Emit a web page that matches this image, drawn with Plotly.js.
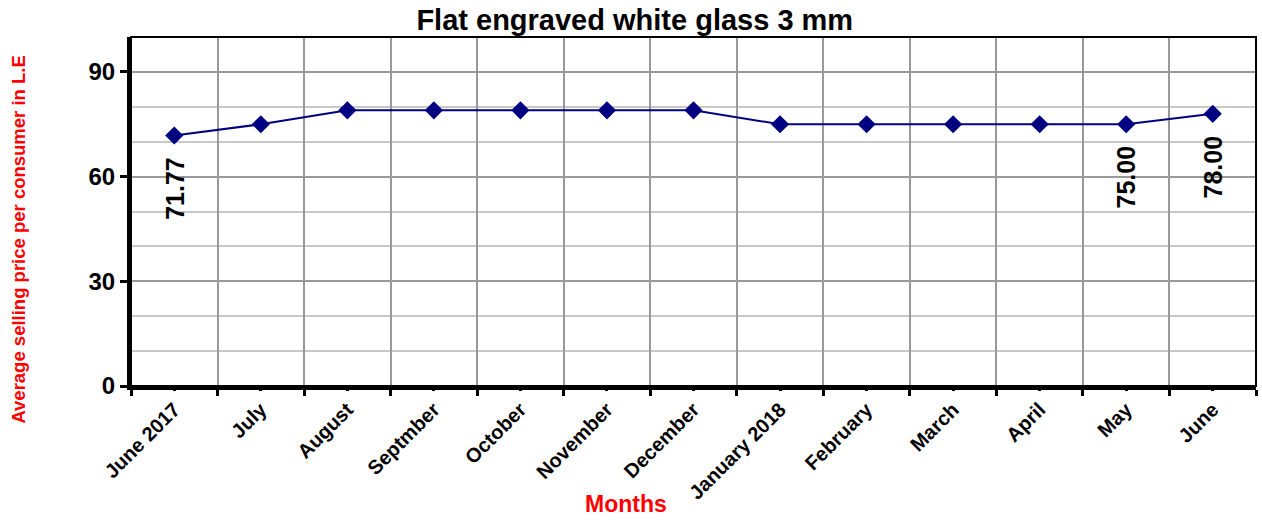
<!DOCTYPE html>
<html>
<head>
<meta charset="utf-8">
<script src="https://cdn.plot.ly/plotly-3.0.1.min.js"></script>
<style>html,body{margin:0;padding:0;background:#fff;}#chart{width:1262px;height:520px;}</style>
</head>
<body>
<div id="chart"></div>
<script>
const months = ["June 2017","July","August","Septmber","October","November","December","January 2018","February","March","April","May","June"];
const prices = [71.77, 75, 79, 79, 79, 79, 79, 75, 75, 75, 75, 75, 78];
const labelled = [0, 11, 12];
const labelText = ["71.77", "75.00", "78.00"];

const font = "Liberation Sans, Arial, sans-serif";

const traces = [
  {
    x: months, y: prices, type: "scatter", mode: "lines+markers",
    line: {color: "#000080", width: 2},
    marker: {symbol: "diamond", size: 14, color: "#000080"},
    hoverinfo: "skip", showlegend: false
  },
  {
    x: months, y: prices, type: "scatter", mode: "markers",
    xaxis: "x2", marker: {opacity: 0}, hoverinfo: "skip", showlegend: false
  }
];

const annotations = labelled.map((i, k) => ({
  x: months[i], y: prices[i], xref: "x", yref: "y",
  text: labelText[k], showarrow: false, textangle: -90,
  xanchor: "center", yanchor: "middle", yshift: -53,
  font: {family: font, size: 25, color: "#000", weight: "bold"}
}));

annotations.push({
  xref: "paper", yref: "paper", x: 0.44, y: -0.339, xanchor: "center", yanchor: "middle",
  text: "<b>Months</b>", showarrow: false,
  font: {family: font, size: 23, color: "#ff0000"}
});
annotations.push({
  xref: "paper", yref: "paper", x: -0.1, y: 0.418, xanchor: "center", yanchor: "middle",
  text: "<b>Average selling price per consumer in L.E</b>", showarrow: false, textangle: -90,
  font: {family: font, size: 18.5, color: "#ff0000"}
});

const layout = {
  width: 1262, height: 520,
  margin: {l: 131, r: 6, t: 37, b: 134},
  paper_bgcolor: "#fff", plot_bgcolor: "#fff",
  font: {family: font, color: "#000"},
  title: {text: "<b>Flat engraved white glass 3 mm</b>", x: 0.503, xanchor: "center", y: 0.962, yanchor: "middle",
          font: {family: font, size: 29, color: "#000"}},
  xaxis: {
    type: "category", tickson: "boundaries", ticks: "outside", ticklen: 6, tickwidth: 3, tickcolor: "#000",
    showgrid: true, gridcolor: "#999", gridwidth: 2,
    showline: true, linecolor: "#000", linewidth: 4,
    tickangle: -45, tickfont: {family: font, size: 20, color: "#000", weight: "bold"},
    range: [-0.5, 12.5], fixedrange: true, zeroline: false
  },
  xaxis2: {
    type: "category", overlaying: "x", matches: "x", side: "bottom",
    ticks: "outside", ticklen: 4, tickwidth: 3, tickcolor: "#000",
    showticklabels: false, showgrid: false, showline: false, zeroline: false
  },
  yaxis: {
    range: [0, 100], tickvals: [0, 30, 60, 90], ticks: "outside", ticklen: 7, tickwidth: 3, tickcolor: "#000",
    showgrid: true, gridcolor: "#999", gridwidth: 2,
    minor: {dtick: 10, showgrid: true, gridcolor: "#c8c8c8", gridwidth: 2, ticks: ""},
    showline: true, linecolor: "#000", linewidth: 4, zeroline: false,
    tickfont: {family: font, size: 24, color: "#000", weight: "bold"},
    fixedrange: true
  },
  shapes: [{type: "rect", xref: "paper", yref: "paper", x0: 0, x1: 1, y0: 0, y1: 1, line: {color: "#000", width: 2}}],
  annotations: annotations
};

Plotly.newPlot("chart", traces, layout, {displayModeBar: false, staticPlot: true});
</script>
</body>
</html>
